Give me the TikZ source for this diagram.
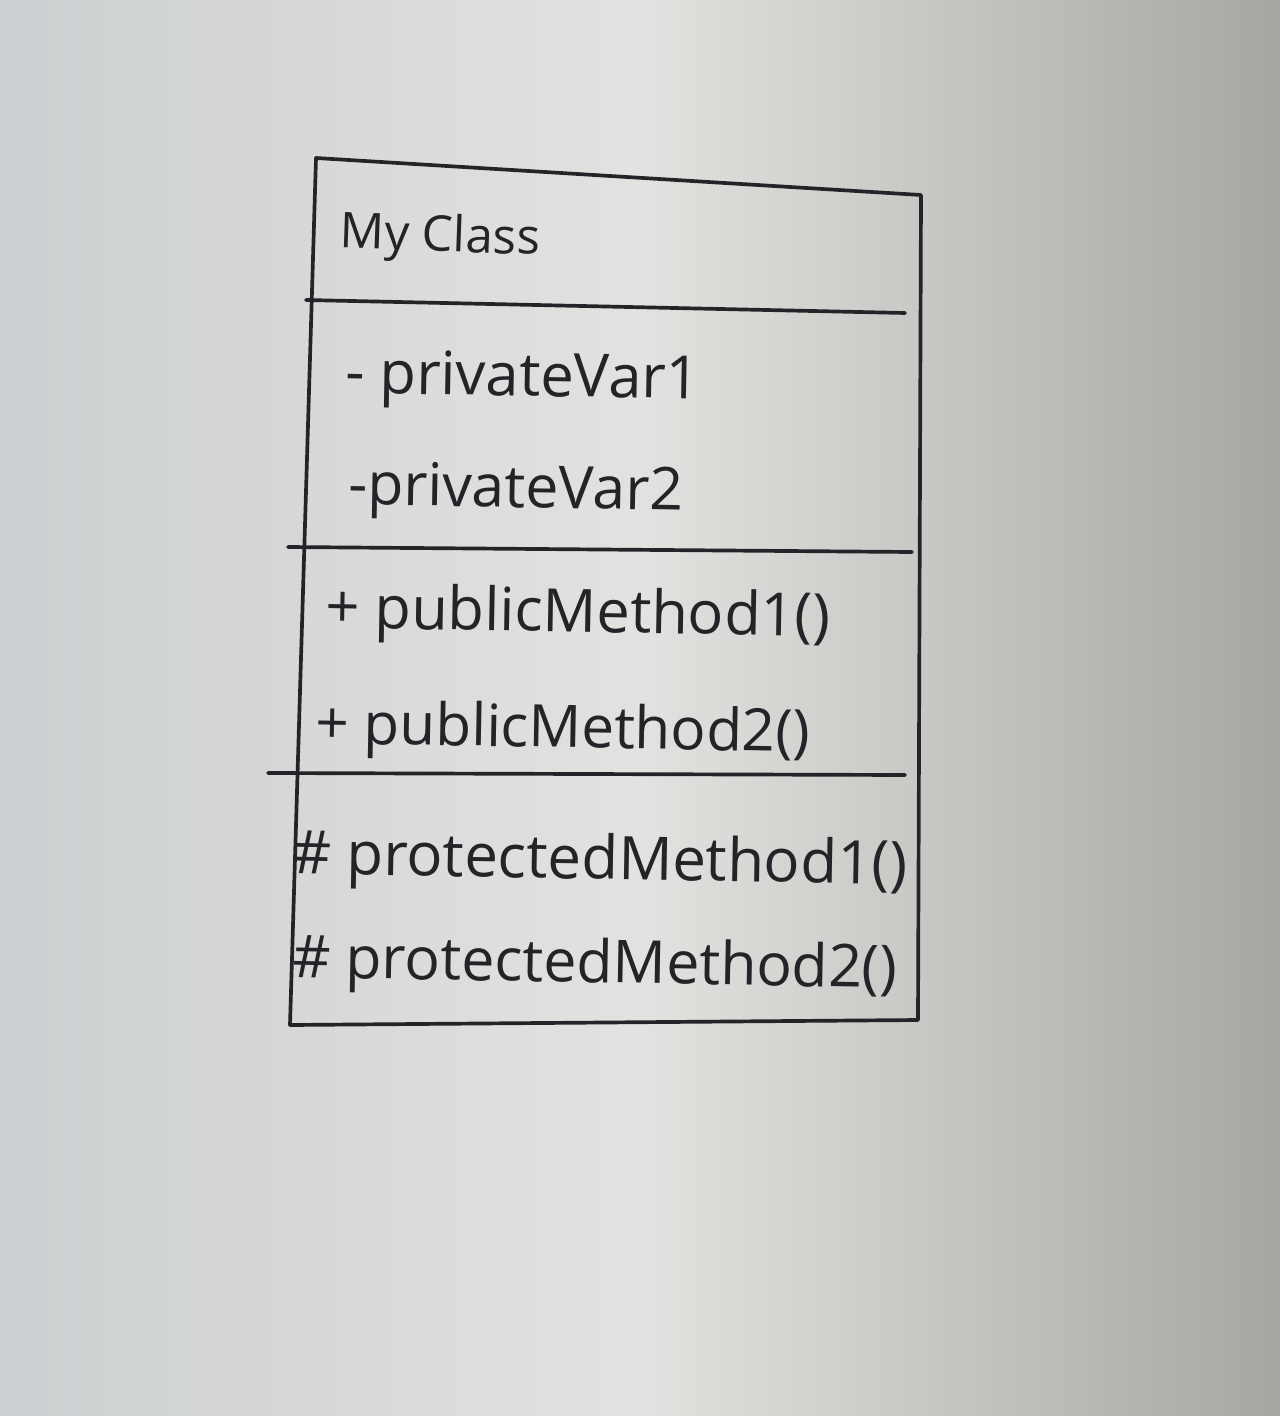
\documentclass[tikz,border=0pt]{standalone}
\usepackage{fontspec}
\setmainfont{Open Sans}
\definecolor{ink}{RGB}{35,36,40}
\definecolor{bgl}{RGB}{204,207,209}
\definecolor{bgm}{RGB}{226,226,224}
\definecolor{bgr}{RGB}{168,166,162}
\tikzset{
  pen/.style={draw=ink, line width=2.1pt, line cap=round, line join=round},
  lbl/.style={anchor=west, inner sep=0pt, text=ink, font=\fontsize{30}{36}\selectfont},
}
\begin{document}
\begin{tikzpicture}[x=0.02cm,y=-0.02cm]
\useasboundingbox (0,0) rectangle (1280,1416);
\shade[left color=bgl, right color=bgm] (0,0) rectangle (640,1416);
\shade[left color=bgm, right color=bgr] (640,0) rectangle (1280,1416);
% box corners
\coordinate (tl) at (316,158);
\coordinate (tr) at (921,195);
\coordinate (br) at (918,1020);
\coordinate (bl) at (290,1025);
\draw[pen] (tl) -- (tr) -- (br) -- (bl) -- cycle;
% dividers
\coordinate (d1a) at (306,300);
\coordinate (d1b) at (905,313);
\coordinate (d2a) at (288,547);
\coordinate (d2b) at (912,552);
\coordinate (d3a) at (268,773);
\coordinate (d3b) at (905,775);
\draw[pen] (d1a) -- (d1b);
\draw[pen] (d2a) -- (d2b);
\draw[pen] (d3a) -- (d3b);
% texts
\node[lbl, rotate=-2] (name) at (340,235) {\resizebox{4cm}{!}{My Class}};
\node[lbl, rotate=-1] (v1) at (345,378) {\resizebox{7.1cm}{!}{- privateVar1}};
\node[lbl, rotate=-1] (v2) at (348,490) {\resizebox{6.7cm}{!}{-privateVar2}};
\node[lbl, rotate=-1] (m1) at (325,612) {\resizebox{10.1cm}{!}{+ publicMethod1()}};
\node[lbl, rotate=-1] (m2) at (315,728) {\resizebox{9.9cm}{!}{+ publicMethod2()}};
\node[lbl, rotate=-1] (p1) at (292,858) {\resizebox{12.3cm}{!}{\# protectedMethod1()}};
\node[lbl, rotate=-1] (p2) at (292,962) {\resizebox{12.1cm}{!}{\# protectedMethod2()}};
\end{tikzpicture}
\end{document}
